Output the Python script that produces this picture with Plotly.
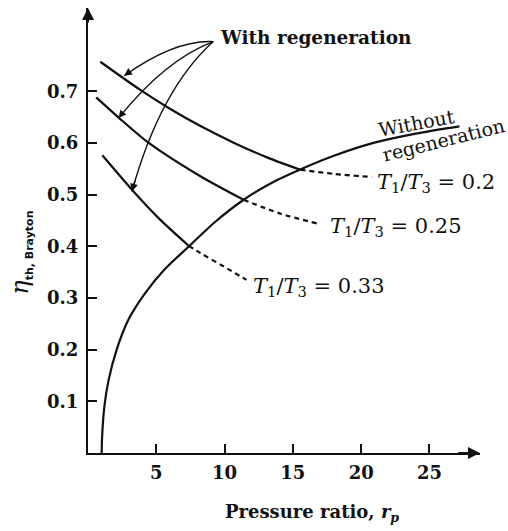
import plotly.graph_objects as go

# Brayton cycle thermal efficiency vs pressure ratio
# --- without regeneration ---
rp_noregen = [1.0, 1.03, 1.2, 1.5, 2.1, 3.0, 4.2, 5.6, 7.4, 9.3, 11.4, 13.4, 15.5, 18.0, 20.9, 24.0, 27.2]
eta_noregen = [0.0, 0.03, 0.09, 0.14, 0.20, 0.26, 0.31, 0.355, 0.40, 0.447, 0.49, 0.522, 0.548,
               0.575, 0.600, 0.618, 0.632]

# --- with regeneration, useful (solid) part and continuation (dashed) ---
rp_r020 = [0.9, 3.8, 6.0, 8.2, 10.7, 13.1, 15.54]
eta_r020 = [0.757, 0.703, 0.666, 0.633, 0.600, 0.572, 0.548]
rp_r020_d = [15.54, 18.0, 20.8]
eta_r020_d = [0.548, 0.540, 0.534]

rp_r025 = [0.6, 2.2, 4.3, 8.2, 11.39]
eta_r025 = [0.688, 0.650, 0.603, 0.536, 0.490]
rp_r025_d = [11.39, 14.1, 16.8]
eta_r025_d = [0.490, 0.463, 0.444]

rp_r033 = [1.05, 3.3, 5.3, 7.37]
eta_r033 = [0.576, 0.507, 0.451, 0.401]
rp_r033_d = [7.37, 8.22, 9.93, 11.6]
eta_r033_d = [0.401, 0.387, 0.361, 0.335]

x_ticks = [5, 10, 15, 20, 25]
y_ticks = [0.1, 0.2, 0.3, 0.4, 0.5, 0.6, 0.7]
y_ticktext = ["0.1", "0.2", "0.3", "0.4", "0.5", "0.6", "0.7"]

SERIF = "DejaVu Serif"
INK = "#111111"

fig = go.Figure()

def curve(x, y, dash="solid"):
    fig.add_trace(go.Scatter(
        x=x, y=y, mode="lines",
        line=dict(color=INK, width=2.2, dash=dash, shape="spline", smoothing=0.8),
        showlegend=False, hoverinfo="skip"))

curve(rp_noregen, eta_noregen)
curve(rp_r020, eta_r020)
curve(rp_r020_d, eta_r020_d, "5px,4px")
curve(rp_r025, eta_r025)
curve(rp_r025_d, eta_r025_d, "5px,4px")
curve(rp_r033, eta_r033)
curve(rp_r033_d, eta_r033_d, "5px,4px")

# curved leader arrows from the "With regeneration" label
leader_start = (9.17, 0.796)
leaders = [
    ((6.39, 0.800), (2.65, 0.730)),
    ((5.66, 0.761), (2.24, 0.648)),
    ((5.29, 0.703), (3.22, 0.506)),
]
shapes = []
annotations = []
for ctrl, head in leaders:
    shapes.append(dict(
        type="path", xref="x", yref="y",
        path=f"M {leader_start[0]},{leader_start[1]} Q {ctrl[0]},{ctrl[1]} {head[0]},{head[1]}",
        line=dict(color=INK, width=1.4)))
    back = (head[0] + 0.12 * (ctrl[0] - head[0]), head[1] + 0.12 * (ctrl[1] - head[1]))
    annotations.append(dict(
        x=head[0], y=head[1], ax=back[0], ay=back[1], xref="x", yref="y",
        axref="x", ayref="y", text="", showarrow=True, arrowhead=2,
        arrowsize=1.1, arrowwidth=1.4, arrowcolor=INK, standoff=0))

# axis arrowheads
annotations.append(dict(x=28.7, y=0, ax=27.0, ay=0, xref="x", yref="y", axref="x", ayref="y",
                        text="", showarrow=True, arrowhead=2, arrowsize=1.2, arrowwidth=2,
                        arrowcolor=INK, standoff=0))
annotations.append(dict(x=0, y=0.861, ax=0, ay=0.83, xref="x", yref="y", axref="x", ayref="y",
                        text="", showarrow=True, arrowhead=2, arrowsize=1.2, arrowwidth=2,
                        arrowcolor=INK, standoff=0))

def label(text, x, y, size, anchor="left", angle=0, bold=False):
    annotations.append(dict(
        x=x, y=y, xref="x", yref="y", text=f"<b>{text}</b>" if bold else text,
        showarrow=False, xanchor=anchor, yanchor="middle", textangle=angle,
        font=dict(family=SERIF, size=size, color=INK)))

label("With regeneration", 9.54, 0.803, 18.5, bold=True)
label("Without", 24.03, 0.639, 19, anchor="center", angle=-10.5)
label("regeneration", 26.0, 0.606, 19, anchor="center", angle=-14)
label("<i>T</i><sub>1</sub>/<i>T</i><sub>3</sub> = 0.2", 21.03, 0.522, 21)
label("<i>T</i><sub>1</sub>/<i>T</i><sub>3</sub> = 0.25", 17.6, 0.437, 21)
label("<i>T</i><sub>1</sub>/<i>T</i><sub>3</sub> = 0.33", 11.9, 0.321, 21)

# axis titles
annotations.append(dict(
    x=0.571, y=-0.134, xref="paper", yref="paper", showarrow=False,
    text="<b>Pressure ratio, </b><i><b>r</b></i><sub><i><b>p</b></i></sub>",
    xanchor="center", yanchor="middle",
    font=dict(family=SERIF, size=18, color=INK)))
annotations.append(dict(
    x=-0.171, y=0.45, xref="paper", yref="paper", showarrow=False, textangle=-90,
    text="<i>η</i><sub><span style='font-size:11px;font-weight:bold;font-family:DejaVu Sans'>th, Brayton</span></sub>",
    xanchor="center", yanchor="middle",
    font=dict(family=SERIF, size=24, color=INK)))

axis_common = dict(
    showgrid=False, zeroline=False, showline=True, linecolor=INK, linewidth=2,
    ticks="inside", ticklen=9, tickwidth=1.5, tickcolor=INK,
    tickfont=dict(family=SERIF, size=18, color=INK, weight="bold"))

fig.update_layout(
    width=508, height=531,
    margin=dict(l=88, r=28, t=8, b=78),
    paper_bgcolor="white", plot_bgcolor="white",
    xaxis=dict(range=[0, 28.7], tickvals=x_ticks, ticklabelstandoff=2, **axis_common),
    yaxis=dict(range=[0, 0.861], tickvals=y_ticks, ticktext=y_ticktext,
               ticklabelstandoff=4, **axis_common),
    shapes=shapes, annotations=annotations, showlegend=False)

fig.write_html("out.html")
